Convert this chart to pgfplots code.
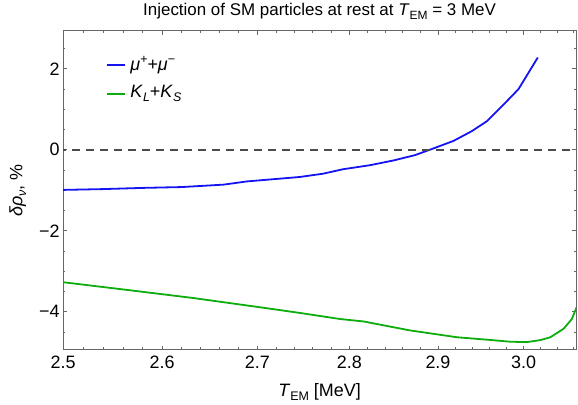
\documentclass[border=0pt]{standalone}
\usepackage{fontspec}
\setmainfont{Liberation Sans}
\usepackage{pgfplots}
\pgfplotsset{compat=1.18}
\definecolor{mblue}{rgb}{0.08,0.08,0.95}
\definecolor{mgreen}{rgb}{0.05,0.68,0.05}
\definecolor{framegray}{gray}{0.4}
\definecolor{dashgray}{gray}{0.3}
% raised / lowered small text, in place of \textsuperscript and \textsubscript
\newcommand{\sps}[1]{\raisebox{0.42em}{\fontsize{12.5}{12.5}\selectfont #1}}
\newcommand{\sbs}[1]{\raisebox{-0.22em}{\fontsize{12.5}{12.5}\selectfont #1}}
\newcommand{\sbt}[1]{\raisebox{-0.22em}{\fontsize{12}{12}\selectfont #1}}
\begin{document}
\begin{tikzpicture}
  \begin{axis}[
      scale only axis,
      width=513bp, height=319bp,
      xmode=log,
      xmin=2.5, xmax=3.063,
      ymin=-4.94, ymax=2.94,
      xtick={2.5,2.6,2.7,2.8,2.9,3.0},
      xticklabels={2.5,2.6,2.7,2.8,2.9,3.0},
      minor xtick={2.52,2.54,2.56,2.58,2.62,2.64,2.66,2.68,2.72,2.74,2.76,2.78,
                   2.82,2.84,2.86,2.88,2.92,2.94,2.96,2.98,3.02,3.04,3.06},
      ytick={-4,-2,0,2},
      yticklabels={−4,−2,0,2},
      minor ytick={-4.5,-3.5,-3,-2.5,-1.5,-1,-0.5,0.5,1,1.5,2.5},
      tick align=inside,
      major tick length=4bp, minor tick length=2.5bp,
      axis line style={framegray, line width=0.9bp},
      major tick style={framegray, line width=0.8bp},
      minor tick style={framegray, line width=0.8bp},
      tick label style={font=\fontsize{18}{20}\selectfont, black},
      xticklabel style={yshift=-3bp},
      /pgf/number format/assume math mode=true,
      title={Injection of SM particles at rest at \textit{T}\sbt{EM} = 3 MeV},
      title style={font=\fontsize{17}{19}\selectfont, at={(0.5,1)}, anchor=south, yshift=2bp},
      xlabel={\textit{T}\sbs{EM} [MeV]},
      ylabel={\textit{δρ}\sbs{\textit{ν}}, \%},
      label style={font=\fontsize{18}{20}\selectfont},
      xlabel style={yshift=-8bp},
      ylabel style={yshift=6bp},
    ]
    % mu+ + mu-
    \addplot[color=mblue, line width=1.8bp] coordinates {
      (2.500,-0.99) (2.540,-0.97) (2.581,-0.94) (2.620,-0.92) (2.664,-0.86)
      (2.689,-0.78) (2.720,-0.72) (2.746,-0.67) (2.771,-0.59) (2.793,-0.48)
      (2.823,-0.38) (2.850,-0.26) (2.874,-0.13) (2.893,0.02) (2.918,0.22)
      (2.939,0.46) (2.957,0.71) (2.976,1.11) (2.994,1.50) (3.017,2.28)
    };
    % K_L + K_S
    \addplot[color=mgreen, line width=1.8bp] coordinates {
      (2.500,-3.27) (2.564,-3.46) (2.632,-3.66) (2.703,-3.89) (2.746,-4.03)
      (2.790,-4.18) (2.816,-4.24) (2.868,-4.46) (2.922,-4.63) (2.957,-4.69)
      (2.984,-4.74) (3.004,-4.75) (3.020,-4.70) (3.032,-4.63) (3.048,-4.42)
      (3.058,-4.18) (3.066,-3.78)
    };
    \addplot[color=dashgray, line width=2bp, dash pattern=on 8bp off 6bp]
      coordinates {(2.4,0) (3.2,0)};
    % legend: lines first, then texts
    \draw[mblue, line width=1.8bp] (rel axis cs:0.086,0.893) -- (rel axis cs:0.121,0.893);
    \draw[mgreen, line width=1.8bp] (rel axis cs:0.086,0.803) -- (rel axis cs:0.121,0.803);
    \node[anchor=west, font=\fontsize{18}{20}\selectfont, inner sep=0pt]
      at (rel axis cs:0.131,0.893)
      {\textit{μ}\sps{+}+\textit{μ}\sps{−}};
    \node[anchor=west, font=\fontsize{18}{20}\selectfont, inner sep=0pt]
      at (rel axis cs:0.131,0.803)
      {\textit{K}\sbs{\textit{L}}+\textit{K}\sbs{\textit{S}}};
  \end{axis}
  \path ([xshift=-63bp,yshift=-54bp]current axis.south west)
    rectangle ([xshift=2bp,yshift=29bp]current axis.north east);
\end{tikzpicture}
\end{document}
